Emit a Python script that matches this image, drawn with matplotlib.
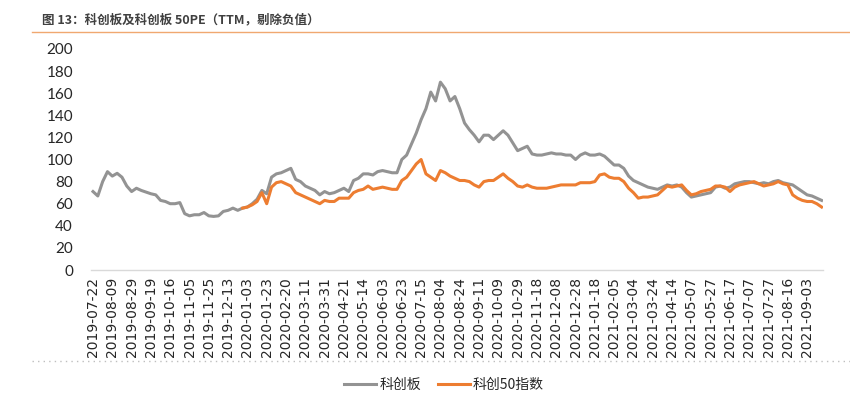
import numpy as np
import matplotlib
matplotlib.use("Agg")
import matplotlib.pyplot as plt
from matplotlib.lines import Line2D

plt.rcParams['font.family'] = ['Noto Sans CJK SC', 'DejaVu Sans']

title = "图 13：科创板及科创板 50PE（TTM，剔除负值）"
series_names = ["科创板", "科创50指数"]

tick_labels = [
    "2019-07-22", "2019-08-09", "2019-08-29", "2019-09-19", "2019-10-16", "2019-11-05",
    "2019-11-25", "2019-12-13", "2020-01-03", "2020-01-23", "2020-02-20", "2020-03-11",
    "2020-03-31", "2020-04-21", "2020-05-14", "2020-06-03", "2020-06-23", "2020-07-15",
    "2020-08-04", "2020-08-24", "2020-09-11", "2020-10-09", "2020-10-29", "2020-11-18",
    "2020-12-08", "2020-12-28", "2021-01-18", "2021-02-05", "2021-03-04", "2021-03-24",
    "2021-04-14", "2021-05-07", "2021-05-27", "2021-06-17", "2021-07-07", "2021-07-27",
    "2021-08-16", "2021-09-03",
]
days_per_label = 14      # trading days between labels
days_per_sample = 3.5    # trading days between sampled values

star_pe = [
    71, 67, 80, 89, 85, 87.5, 84, 76, 71, 74,
    72, 70.5, 69, 68, 63, 62, 60, 60, 61, 51,
    49, 50, 50, 52, 49, 48.5, 49, 53, 54, 56,
    54, 56, 57, 60, 64, 72, 69, 84, 87, 88,
    90, 92, 82, 80, 76, 74, 72, 68, 71, 69,
    70, 72, 74, 71, 81, 83, 87, 87, 86, 89,
    90, 89, 88, 88, 100, 104, 114, 124, 136, 146,
    161, 153, 170, 164, 153, 157, 146, 133, 127, 122,
    116, 122, 122, 118, 122, 126, 122, 115, 108, 110,
    112, 105, 104, 104, 105, 106, 105, 105, 104, 104,
    100, 104, 106, 104, 104, 105, 103, 99, 95, 95,
    92, 85, 81, 79, 77, 75, 74, 73, 75, 77,
    76, 77, 75, 70, 66, 67, 68, 69, 70, 75,
    76, 74, 75, 78, 79, 80, 80, 79, 78, 79,
    78, 80, 81, 79, 78, 77, 74, 71, 68, 67,
    65, 63,
]

star50_start = 31  # sample index where the STAR 50 series begins
star50_pe = [
    56, 57, 59, 62, 70, 60, 75, 79, 80,
    78, 76, 70, 68, 66, 64, 62, 60, 63, 62,
    62, 65, 65, 65, 70, 72, 73, 76, 73, 74,
    75, 74, 73, 73, 81, 84, 90, 96, 100, 87,
    84, 81, 90, 88, 85, 83, 81, 81, 80, 77,
    75, 80, 81, 81, 84, 87, 83, 80, 76, 75,
    77, 75, 74, 74, 74, 75, 76, 77, 77, 77,
    77, 79, 79, 79, 80, 86, 87, 84, 83, 83,
    80, 74, 70, 65, 66, 66, 67, 68, 72, 76,
    75, 76, 77, 72, 68, 69, 71, 72, 73, 76,
    76, 75, 71, 75, 77, 78, 79, 80, 78, 76,
    77, 78, 80, 78, 77, 68, 65, 63, 62, 62,
    60, 57,
]

gray = "#939393"
orange = "#ED7D31"
text_color = "#262626"

W, H = 850, 399
fig = plt.figure(figsize=(W / 100, H / 100), dpi=100)

ax = fig.add_axes([91 / W, 1 - 270 / H, (823 - 91) / W, (270 - 49) / H])

x_all = np.arange(len(star_pe)) * days_per_sample
x_50 = (star50_start + np.arange(len(star50_pe))) * days_per_sample

ax.plot(x_all, star_pe, color=gray, lw=2.2, zorder=2, solid_joinstyle='round')
ax.plot(x_50, star50_pe, color=orange, lw=2.2, zorder=3, solid_joinstyle='round')

ax.set_ylim(0, 200)
ax.set_yticks(np.arange(0, 201, 20))
ax.set_xlim(-1.45, 529.5)
ax.set_xticks(np.arange(len(tick_labels)) * days_per_label)
ax.set_xticklabels(tick_labels, rotation=90, fontsize=10,
                   family=['DejaVu Sans'], color=text_color)
for lab in ax.get_yticklabels():
    lab.set_family(['Lato', 'DejaVu Sans'])
    lab.set_fontsize(11)
    lab.set_color(text_color)
ax.tick_params(axis='x', length=0, pad=5)
ax.tick_params(axis='y', length=0, pad=13)

for s in ['top', 'right', 'left']:
    ax.spines[s].set_visible(False)
ax.spines['bottom'].set_color('#D9D9D9')
ax.spines['bottom'].set_linewidth(1.0)

# title and decorative lines
fig.text(42 / W, 1 - 20 / H, title, fontsize=9, fontweight='bold',
         color='#404040', va='center', ha='left')
fig.add_artist(Line2D([32 / W, 1.0], [1 - 31.5 / H, 1 - 31.5 / H],
                      color='#F0A870', lw=1.0, transform=fig.transFigure))
fig.add_artist(Line2D([32 / W, 1.0], [1 - 361 / H, 1 - 361 / H],
                      color='#BFBFBF', lw=1.0, ls=(0, (1, 3)),
                      transform=fig.transFigure))

handles = [Line2D([], [], color=gray, lw=2.2), Line2D([], [], color=orange, lw=2.2)]
fig.legend(handles, series_names, loc='center', bbox_to_anchor=(444 / W, 1 - 385 / H),
           ncol=2, frameon=False, fontsize=10, handlelength=2.3,
           handletextpad=0.25, columnspacing=1.2, labelcolor=text_color)

fig.savefig("out.png", dpi=100)
